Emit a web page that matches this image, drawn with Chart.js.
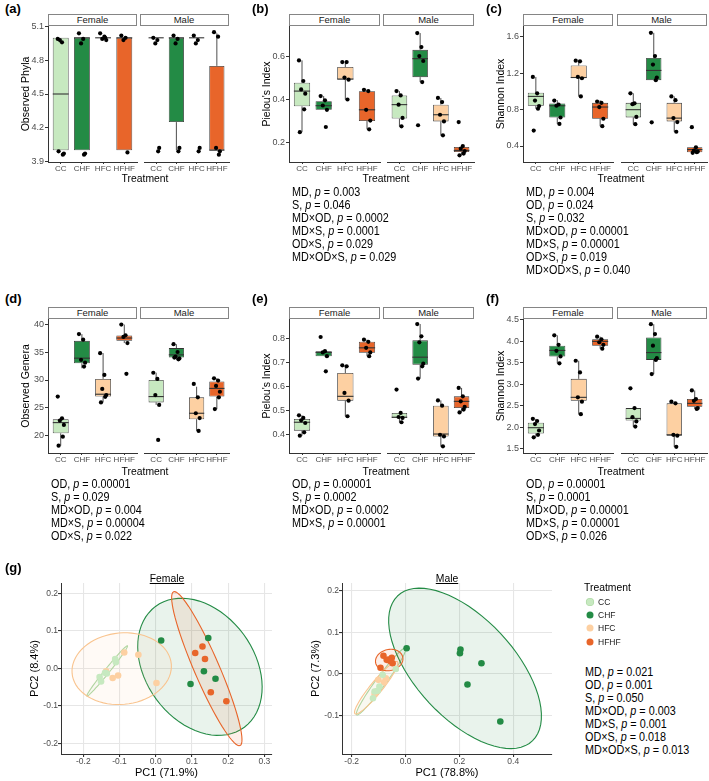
<!DOCTYPE html>
<html>
<head>
<meta charset="UTF-8">
<title>Alpha and beta diversity</title>
<script src="https://cdn.jsdelivr.net/npm/chart.js"></script>
<style>
  body { margin: 0; background: #fff; }
  #fig { position: relative; width: 709px; height: 781px; overflow: hidden;
         font-family: "Liberation Sans", Arial, Helvetica, sans-serif; color: #000; }
  #fig canvas { position: absolute; }
  .t { position: absolute; white-space: nowrap; }
  .c { transform: translate(-50%, -50%) scaleX(0.9); }
  .tag { font-weight: bold; font-size: 13px; line-height: 14px; }
  .strip { position: absolute; box-sizing: border-box; border: 1px solid #858585; background: #fff;
           font-size: 9.5px; line-height: 10px; color: #1a1a1a; text-align: center; }
  .stats { font-size: 12px; line-height: 13px; transform: scaleX(0.9); transform-origin: 0 0; }
  .ttl { font-size: 11.5px; line-height: 12px; }
  .leg { font-size: 8.5px; line-height: 10px; color: #1a1a1a; }
  .dot { position: absolute; width: 7px; height: 7px; border-radius: 50%; transform: translate(-50%, -50%); }
</style>
</head>
<body>
<div id="fig"></div>
<script>
const GROUPS = ['CC', 'CHF', 'HFC', 'HFHF'];
const COLORS = ['#c7e9c0', '#238b45', '#fdd0a2', '#e8652a'];
// horizontal jitter of the raw points, in category units
const JIT = [-0.14, 0.06, -0.04, 0.15, 0.1, -0.1, 0.02];

// (a) Observed Phyla   box = [low, q1, median, q3, high]
const A_TICKS = ['3.9', '4.2', '4.5', '4.8', '5.1'];
const A_F_BOX = [[4.0, 4.0, 4.5, 5.0, 5.0], [4.0, 4.0, 5.0, 5.0, 5.0], [5.0, 5.0, 5.0, 5.0, 5.0], [4.0, 4.0, 5.0, 5.0, 5.0]];
const A_M_BOX = [[5.0, 5.0, 5.0, 5.0, 5.0], [4.0, 4.25, 5.0, 5.0, 5.0], [5.0, 5.0, 5.0, 5.0, 5.0], [4.0, 4.0, 4.0, 4.75, 5.04]];
const A_F_PTS = [[4.99, 4.96, 4.98, 3.97, 3.96, 3.99], [5.04, 4.99, 4.95, 3.97, 3.96], [5.04, 5.01, 4.99, 4.98, 5.0], [5.02, 5.0, 4.98, 3.98]];
const A_M_PTS = [[5.0, 4.98, 4.95, 4.02, 3.99], [5.02, 4.99, 4.95, 4.02, 3.99], [5.02, 4.98, 4.95, 4.02, 3.99], [5.05, 5.01, 4.02, 3.99, 3.96]];

// (b) Pielou's Index, phyla
const B_TICKS = ['0.2', '0.4', '0.6'];
const B_F_BOX = [[0.246, 0.366, 0.437, 0.476, 0.58], [0.35, 0.35, 0.369, 0.39, 0.414], [0.398, 0.491, 0.493, 0.549, 0.572], [0.259, 0.298, 0.35, 0.436, 0.443]];
const B_M_BOX = [[0.273, 0.309, 0.374, 0.417, 0.437], [0.479, 0.502, 0.588, 0.629, 0.707], [0.231, 0.296, 0.327, 0.374, 0.405], [0.14, 0.153, 0.161, 0.177, 0.181]];
const B_F_PTS = [[0.58, 0.484, 0.445, 0.425, 0.352, 0.246], [0.414, 0.394, 0.37, 0.35, 0.27], [0.572, 0.572, 0.5, 0.49, 0.398], [0.443, 0.437, 0.35, 0.3, 0.259]];
const B_M_PTS = [[0.437, 0.417, 0.374, 0.312, 0.273], [0.707, 0.642, 0.6, 0.577, 0.479, 0.278], [0.405, 0.386, 0.327, 0.296, 0.231], [0.293, 0.181, 0.169, 0.158, 0.146, 0.138]];

// (c) Shannon Index, phyla
const C_TICKS = ['0.4', '0.8', '1.2', '1.6'];
const C_F_BOX = [[0.81, 0.843, 0.946, 0.986, 1.16], [0.643, 0.714, 0.843, 0.868, 0.904], [0.946, 1.15, 1.154, 1.286, 1.339], [0.618, 0.7, 0.829, 0.875, 0.904]];
const C_M_BOX = [[0.64, 0.715, 0.8, 0.875, 0.98], [1.125, 1.125, 1.232, 1.368, 1.646], [0.557, 0.671, 0.707, 0.875, 0.946], [0.325, 0.332, 0.361, 0.386, 0.39]];
const C_F_PTS = [[1.16, 0.98, 0.9, 0.84, 0.81, 0.57], [0.9, 0.857, 0.843, 0.714, 0.643], [1.339, 1.332, 1.16, 1.146, 0.946], [0.89, 0.875, 0.829, 0.7, 0.618]];
const C_M_PTS = [[0.98, 0.87, 0.86, 0.72, 0.64], [1.646, 1.39, 1.296, 1.154, 1.125, 0.661], [0.946, 0.904, 0.707, 0.664, 0.557], [0.607, 0.386, 0.35, 0.339, 0.332, 0.325]];

// (d) Observed Genera
const D_TICKS = ['20', '25', '30', '35', '40'];
const D_F_BOX = [[18.27, 20.48, 22.39, 22.99, 23.16], [32.1, 33.0, 33.9, 37.0, 38.2], [26.0, 27.04, 27.46, 30.2, 34.8], [36.6, 37.0, 37.5, 37.97, 39.9]];
const D_M_BOX = [[25.55, 26.0, 27.04, 30.0, 31.3], [33.7, 34.03, 34.5, 35.7, 36.4], [20.9, 23.0, 24.06, 26.9, 28.8], [24.8, 27.04, 28.5, 29.73, 30.3]];
const D_F_PTS = [[27.04, 23.16, 22.75, 21.97, 19.88, 18.27], [38.2, 37.2, 33.6, 33.1, 32.4], [34.8, 30.9, 28.4, 27.3, 27.0, 26.0], [39.9, 38.0, 37.7, 36.6, 31.1]];
const D_M_PTS = [[31.3, 30.2, 27.3, 25.55, 19.3], [36.4, 35.0, 34.2, 33.85, 33.7, 34.0], [29.3, 26.9, 24.06, 23.2, 20.9], [30.3, 29.9, 28.95, 27.9, 26.9, 24.8]];

// (e) Pielou's Index, genera
const E_TICKS = ['0.4', '0.5', '0.6', '0.7', '0.8'];
const E_F_BOX = [[0.397, 0.418, 0.453, 0.467, 0.482], [0.728, 0.728, 0.744, 0.749, 0.749], [0.478, 0.543, 0.561, 0.658, 0.69], [0.728, 0.742, 0.763, 0.788, 0.797]];
const E_M_BOX = [[0.453, 0.471, 0.474, 0.492, 0.492], [0.635, 0.693, 0.724, 0.794, 0.862], [0.353, 0.394, 0.404, 0.522, 0.544], [0.494, 0.512, 0.54, 0.561, 0.596]];
const E_F_PTS = [[0.482, 0.471, 0.461, 0.45, 0.411, 0.397], [0.808, 0.749, 0.744, 0.728, 0.665], [0.69, 0.686, 0.575, 0.543, 0.478], [0.797, 0.788, 0.763, 0.744, 0.728]];
const E_M_PTS = [[0.589, 0.492, 0.475, 0.471, 0.453], [0.862, 0.811, 0.786, 0.697, 0.686, 0.635], [0.544, 0.522, 0.401, 0.394, 0.353], [0.596, 0.561, 0.54, 0.517, 0.506, 0.494]];

// (f) Shannon Index, genera
const F_TICKS = ['1.5', '2.0', '2.5', '3.0', '3.5', '4.0', '4.5'];
const F_F_BOX = [[1.77, 1.86, 1.995, 2.11, 2.2], [3.49, 3.65, 3.79, 3.9, 4.14], [2.31, 2.62, 2.7, 3.13, 3.55], [3.83, 3.9, 4.0, 4.05, 4.11]];
const F_M_BOX = [[2.02, 2.16, 2.21, 2.45, 2.45], [3.24, 3.57, 3.74, 4.09, 4.4], [1.55, 1.81, 1.83, 2.56, 2.6], [2.43, 2.48, 2.56, 2.66, 2.86]];
const F_F_PTS = [[2.2, 2.15, 2.08, 1.93, 1.83, 1.77], [4.14, 3.92, 3.78, 3.65, 3.49], [3.55, 3.28, 2.7, 2.6, 2.31], [4.11, 4.05, 3.98, 3.92, 3.83]];
const F_M_PTS = [[2.91, 2.45, 2.24, 2.14, 2.02], [4.4, 4.17, 3.9, 3.61, 3.57, 3.24], [2.6, 2.56, 1.83, 1.81, 1.55], [2.86, 2.66, 2.62, 2.45, 2.43]];

// p-value notes
const B_STATS = ['MD, <i>p</i> = 0.003', 'S, <i>p</i> = 0.046', 'MD×OD, <i>p</i> = 0.0002', 'MD×S, <i>p</i> = 0.0001', 'OD×S, <i>p</i> = 0.029', 'MD×OD×S, <i>p</i> = 0.029'];
const C_STATS = ['MD, <i>p</i> = 0.004', 'OD, <i>p</i> = 0.024', 'S, <i>p</i> = 0.032', 'MD×OD, <i>p</i> = 0.00001', 'MD×S, <i>p</i> = 0.00001', 'OD×S, <i>p</i> = 0.019', 'MD×OD×S, <i>p</i> = 0.040'];
const D_STATS = ['OD, <i>p</i> = 0.00001', 'S, <i>p</i> = 0.029', 'MD×OD, <i>p</i> = 0.004', 'MD×S, <i>p</i> = 0.00004', 'OD×S, <i>p</i> = 0.022'];
const E_STATS = ['OD, <i>p</i> = 0.00001', 'S, <i>p</i> = 0.0002', 'MD×OD, <i>p</i> = 0.0002', 'MD×S, <i>p</i> = 0.00001'];
const F_STATS = ['OD, <i>p</i> = 0.00001', 'S, <i>p</i> = 0.0001', 'MD×OD, <i>p</i> = 0.00001', 'MD×S, <i>p</i> = 0.00001', 'OD×S, <i>p</i> = 0.026'];
const G_STATS = ['MD, <i>p</i> = 0.021', 'OD, <i>p</i> = 0.001', 'S, <i>p</i> = 0.050', 'MD×OD, <i>p</i> = 0.003', 'MD×S, <i>p</i> = 0.001', 'OD×S, <i>p</i> = 0.018', 'MD×OD×S, <i>p</i> = 0.013'];

// (g) PCA scores [PC1, PC2]
const F_PC_CC = [[-0.155, -0.023], [-0.151, -0.035], [-0.140, -0.012], [-0.135, -0.014], [-0.112, 0.025], [-0.110, 0.016]];
const F_PC_CHF = [[0.015, 0.074], [0.145, 0.081], [0.133, -0.008], [0.165, -0.028], [0.096, -0.042]];
const F_PC_HFC = [[-0.087, 0.042], [-0.048, 0.036], [-0.119, -0.026], [-0.104, -0.019], [0.002, -0.039], [-0.137, -0.008]];
const F_PC_HFHF = [[0.129, 0.058], [0.109, 0.041], [0.136, 0.025], [0.152, -0.064], [0.195, -0.088]];
const M_PC_CC = [[-0.036, 0.012], [-0.085, -0.002], [-0.097, -0.030], [-0.115, -0.042], [-0.121, -0.058], [-0.103, -0.040]];
const M_PC_CHF = [[0.004, 0.062], [0.204, 0.059], [0.202, 0.050], [0.282, 0.026], [0.230, -0.025], [0.352, -0.114]];
const M_PC_HFC = [[-0.101, -0.014], [-0.073, -0.010], [-0.109, -0.042], [-0.115, -0.048], [-0.080, -0.020]];
const M_PC_HFHF = [[-0.082, 0.044], [-0.061, 0.035], [-0.051, 0.039], [-0.057, 0.031], [-0.048, 0.026], [-0.093, 0.015], [-0.070, 0.034]];

// ellipses: [centre x, centre y, semi-axis u (x, y), conjugate semi-axis v (x, y)]
const F_ELL = [[-0.134, -0.007, 0.056, 0.067, 0.005, -0.004], [0.122, 0.004, -0.1227, 0.161, 0.1203, 0.0868],
               [-0.094, -0.001, 0.137, 0.012, -0.008, 0.095], [0.141, -0.001, -0.0918, 0.205, 0.0317, 0.0134]];
const M_ELL = [[-0.091, -0.018, 0.0909, 0.08, 0.0145, -0.0072], [0.221, 0.0136, -0.251, 0.1736, 0.1324, 0.0834],
               [-0.109, -0.033, 0.0788, 0.0624, 0.0168, -0.0093], [-0.0606, 0.0336, 0.051, 0.003, 0, 0.0256]];
const F_PC_XT = ['-0.2', '-0.1', '0.0', '0.1', '0.2', '0.3'];
const F_PC_YT = ['-0.2', '-0.1', '0.0', '0.1', '0.2'];
const M_PC_XT = ['-0.2', '0.0', '0.2', '0.4'];
const M_PC_YT = ['-0.1', '0.0', '0.1', '0.2'];

Chart.defaults.font.family = '"Liberation Sans", Arial, Helvetica, sans-serif';
const fig = document.getElementById('fig');

function txt(html, x, y, cls, css) {
  const d = document.createElement('div');
  d.className = 't ' + (cls || '');
  d.innerHTML = html;
  d.style.left = x + 'px';
  d.style.top = y + 'px';
  Object.assign(d.style, css || {});
  fig.appendChild(d);
  return d;
}

function canvasAt(x, y, w, h) {
  const cv = document.createElement('canvas');
  cv.width = w; cv.height = h;
  cv.style.left = x + 'px'; cv.style.top = y + 'px';
  cv.style.width = w + 'px'; cv.style.height = h + 'px';
  fig.appendChild(cv);
  return cv;
}

// whiskers behind the boxes, medians right after them
const boxPlugin = {
  id: 'boxStats',
  beforeDatasetsDraw(chart) {
    const st = chart.data.datasets[0].stats, y = chart.scales.y;
    const bars = chart.getDatasetMeta(0).data, c = chart.ctx;
    c.save();
    c.strokeStyle = '#3a3a3a'; c.lineWidth = 0.9;
    st.forEach((s, i) => {
      const x = bars[i].x;
      c.beginPath();
      c.moveTo(x, y.getPixelForValue(s[0])); c.lineTo(x, y.getPixelForValue(s[1]));
      c.moveTo(x, y.getPixelForValue(s[3])); c.lineTo(x, y.getPixelForValue(s[4]));
      c.stroke();
    });
    c.restore();
  },
  afterDatasetDraw(chart, args) {
    if (args.index !== 0) return;
    const st = chart.data.datasets[0].stats, y = chart.scales.y;
    const bars = chart.getDatasetMeta(0).data, c = chart.ctx;
    c.save();
    c.strokeStyle = '#333'; c.lineWidth = 1.1;
    st.forEach((s, i) => {
      const b = bars[i], py = y.getPixelForValue(s[2]);
      c.beginPath(); c.moveTo(b.x - b.width / 2, py); c.lineTo(b.x + b.width / 2, py); c.stroke();
    });
    c.restore();
  }
};

function boxFacet(x0, top, bottom, w, ticks, yr, box, pts, title) {
  const PADL = title ? 30 : 0, PT = 8, XH = 16, PR = 6;
  const cv = canvasAt(x0 - PADL, top - PT, w + PADL + PR, bottom - top + PT + XH);
  const yTicks = ticks.map(Number);
  new Chart(cv, {
    type: 'bar',
    data: {
      datasets: [
        { type: 'bar', stats: box, data: box.map((b, i) => ({ x: i + 1, y: [b[1], b[3]] })),
          backgroundColor: COLORS, borderColor: '#333', borderWidth: 0.8, borderSkipped: false,
          categoryPercentage: 1, barPercentage: 0.75, order: 2 },
        { type: 'scatter', data: pts.flatMap((g, i) => g.map((v, k) => ({ x: i + 1 + JIT[k], y: v }))),
          pointRadius: 2.1, backgroundColor: '#000', borderWidth: 0, order: 1 }
      ]
    },
    options: {
      responsive: false, animation: false,
      layout: { padding: { top: PT, right: PR, left: 0, bottom: 0 } },
      plugins: { legend: { display: false }, tooltip: { enabled: false } },
      scales: {
        x: {
          type: 'linear', min: 0.4, max: 4.6, offset: false,
          grid: { display: true, offset: false, drawOnChartArea: false, tickLength: 2, color: '#333' },
          border: { color: '#333', width: 1 },
          afterBuildTicks: s => { s.ticks = [1, 2, 3, 4].map(v => ({ value: v })); },
          afterFit: s => { s.height = XH; },
          ticks: { autoSkip: false, maxRotation: 0, minRotation: 0, padding: 0, color: '#4d4d4d',
                   font: { size: 8 }, callback: v => GROUPS[v - 1] }
        },
        y: {
          display: !!title, min: yr[0], max: yr[1], beginAtZero: false,
          grid: { display: true, drawOnChartArea: false, tickLength: 3, color: '#333' },
          border: { color: '#333', width: 1 },
          afterBuildTicks: s => { s.ticks = yTicks.map(v => ({ value: v })); },
          afterFit: s => { s.width = PADL; },
          ticks: { padding: 1, color: '#4d4d4d', font: { size: 9 }, callback: (v, i) => ticks[i] },
          title: { display: !!title, text: title, color: '#000', font: { size: 10.5 }, padding: { top: 2, bottom: 0 } }
        }
      }
    },
    plugins: [boxPlugin]
  });
}

const COLS = [{ FL: 48, ML: 139.5, W: 89, TX: 145 }, { FL: 289, ML: 383, W: 91, TX: 386 }, { FL: 523, ML: 616.5, W: 90, TX: 621 }];
const ROWS = [{ T: 26, B: 162, ST: 14, TY: 178, SY: 192 }, { T: 319, B: 453, ST: 307, TY: 471, SY: 484 }];

function boxPanel(tag, col, row, ticks, yr, fBox, mBox, fPts, mPts, title, stats) {
  const C = COLS[col], R = ROWS[row];
  boxFacet(C.FL, R.T, R.B, C.W, ticks, yr, fBox, fPts, title);
  boxFacet(C.ML, R.T, R.B, C.W, ticks, yr, mBox, mPts, null);
  const s1 = txt('Female', C.FL, R.ST, 'strip'); s1.style.width = C.W + 'px'; s1.style.height = (R.T - R.ST) + 'px';
  const s2 = txt('Male', C.ML, R.ST, 'strip'); s2.style.width = C.W + 'px'; s2.style.height = (R.T - R.ST) + 'px';
  txt('Treatment', C.TX, R.TY, 'ttl c');
  txt(tag, [5, 252, 486][col], [2, 292][row], 'tag');
  if (stats) txt(stats.join('<br>'), C.FL + 3, R.SY - 6.5, 'stats');
}

boxPanel('(a)', 0, 0, A_TICKS, [3.895, 5.105], A_F_BOX, A_M_BOX, A_F_PTS, A_M_PTS, 'Observed Phyla', null);
boxPanel('(b)', 1, 0, B_TICKS, [0.107, 0.74], B_F_BOX, B_M_BOX, B_F_PTS, B_M_PTS, "Pielou's Index", B_STATS);
boxPanel('(c)', 2, 0, C_TICKS, [0.224, 1.721], C_F_BOX, C_M_BOX, C_F_PTS, C_M_PTS, 'Shannon Index', C_STATS);
boxPanel('(d)', 0, 1, D_TICKS, [16.96, 40.9], D_F_BOX, D_M_BOX, D_F_PTS, D_M_PTS, 'Observed Genera', D_STATS);
boxPanel('(e)', 1, 1, E_TICKS, [0.325, 0.883], E_F_BOX, E_M_BOX, E_F_PTS, E_M_PTS, "Pielou's Index", E_STATS);
boxPanel('(f)', 2, 1, F_TICKS, [1.407, 4.52], F_F_BOX, F_M_BOX, F_F_PTS, F_M_PTS, 'Shannon Index', F_STATS);

function hexA(h, a) {
  const n = parseInt(h.slice(1), 16);
  return `rgba(${n >> 16},${(n >> 8) & 255},${n & 255},${a})`;
}

function pcaPanel(g, xr, yr, xt, yt, series, ells, xTitle, yTitle) {
  const PADL = 40, PT = 8, XH = 27, PR = 6;
  const cv = canvasAt(g.L - PADL, g.T - PT, g.R - g.L + PADL + PR, g.B - g.T + PT + XH);
  const ellPlugin = {
    id: 'ellipses',
    beforeDatasetsDraw(chart) {
      const c = chart.ctx, sx = chart.scales.x, sy = chart.scales.y;
      c.save();
      [0, 1, 2, 3].forEach(k => {
        const e = ells[k];
        c.beginPath();
        for (let j = 0; j <= 72; j++) {
          const t = j / 72 * 2 * Math.PI;
          const px = sx.getPixelForValue(e[0] + e[2] * Math.cos(t) + e[4] * Math.sin(t));
          const py = sy.getPixelForValue(e[1] + e[3] * Math.cos(t) + e[5] * Math.sin(t));
          j ? c.lineTo(px, py) : c.moveTo(px, py);
        }
        c.closePath();
        c.fillStyle = hexA(COLORS[k], 0.1); c.fill();
        c.strokeStyle = k === 0 ? '#a9d6a0' : (k === 2 ? '#f9c48f' : COLORS[k]);
        c.lineWidth = 1.1; c.stroke();
      });
      c.restore();
    }
  };
  const axis = (r, t, extra) => Object.assign({
    type: 'linear', min: r[0], max: r[1],
    grid: { color: '#e6e6e6', lineWidth: 1.1, tickColor: '#333', tickLength: 3 },
    border: { color: '#333', width: 1 },
    afterBuildTicks: s => { s.ticks = t.map(v => ({ value: Number(v) })); },
    ticks: { color: '#4d4d4d', font: { size: 8.5 }, padding: 0, callback: (v, i) => t[i] }
  }, extra);
  new Chart(cv, {
    type: 'scatter',
    data: {
      datasets: series.map((d, k) => ({
        label: GROUPS[k], data: d.map(p => ({ x: p[0], y: p[1] })),
        pointRadius: 3.3, backgroundColor: COLORS[k], borderWidth: 0
      }))
    },
    options: {
      responsive: false, animation: false,
      layout: { padding: { top: PT, right: PR, left: 0, bottom: 0 } },
      plugins: { legend: { display: false }, tooltip: { enabled: false } },
      scales: {
        x: axis(xr, xt, {
          afterFit: s => { s.height = XH; },
          title: { display: true, text: xTitle, color: '#000', font: { size: 11 }, padding: { top: 0, bottom: 1.5 } }
        }),
        y: axis(yr, yt, {
          afterFit: s => { s.width = PADL; },
          title: { display: true, text: yTitle, color: '#000', font: { size: 11 }, padding: { top: 7, bottom: 0 } }
        })
      }
    },
    plugins: [ellPlugin]
  });
}

const GF = { L: 61, R: 272, T: 583, B: 754 }, GM = { L: 342, R: 552, T: 583, B: 754 };
pcaPanel(GF, [-0.2616, 0.321], [-0.2285, 0.2275], F_PC_XT, F_PC_YT,
         [F_PC_CC, F_PC_CHF, F_PC_HFC, F_PC_HFHF], F_ELL, 'PC1 (71.9%)', 'PC2 (8.4%)');
pcaPanel(GM, [-0.236, 0.544], [-0.192, 0.2185], M_PC_XT, M_PC_YT,
         [M_PC_CC, M_PC_CHF, M_PC_HFC, M_PC_HFHF], M_ELL, 'PC1 (78.8%)', 'PC2 (7.3%)');

txt('(g)', 5, 561, 'tag');
txt('Female', (GF.L + GF.R) / 2, 578, 'ttl c', { textDecoration: 'underline' });
txt('Male', (GM.L + GM.R) / 2, 578, 'ttl c', { textDecoration: 'underline' });

// legend
txt('Treatment', 584, 581, 'ttl', { transform: 'scaleX(0.9)', transformOrigin: '0 0' });
[602, 615, 628, 642].forEach((y, k) => {
  const d = document.createElement('div');
  d.className = 'dot';
  d.style.left = '590px'; d.style.top = y + 'px'; d.style.background = COLORS[k];
  if (k === 0) d.style.boxShadow = '0 0 0 0.6px #a9d6a0';
  fig.appendChild(d);
  txt(GROUPS[k], 598, y - 5, 'leg');
});
txt(G_STATS.join('<br>'), 585, 672 - 6.5, 'stats');
</script>
</body>
</html>
